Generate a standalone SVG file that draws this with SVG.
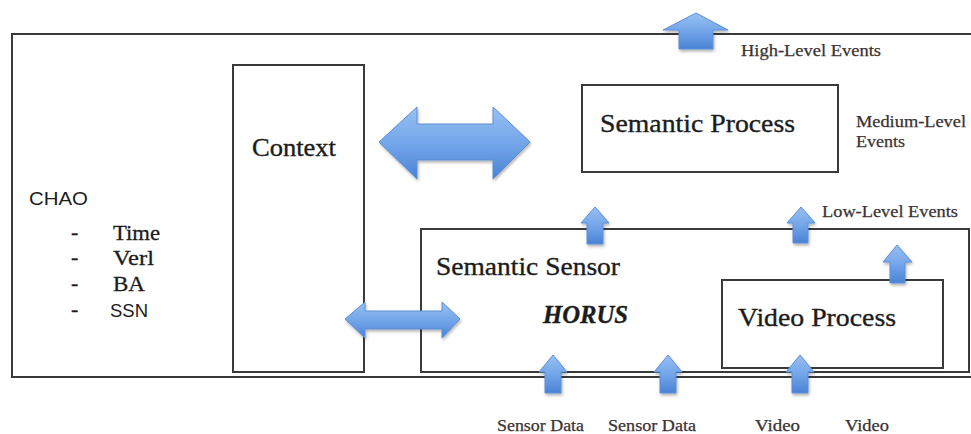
<svg xmlns="http://www.w3.org/2000/svg" width="971" height="434" viewBox="0 0 971 434">
<defs>
  <linearGradient id="blueV" x1="0" y1="0" x2="0" y2="1">
    <stop offset="0" stop-color="#98c0f2"/>
    <stop offset="0.5" stop-color="#74a6ea"/>
    <stop offset="1" stop-color="#4a82d4"/>
  </linearGradient>
  <filter id="shadow" x="-30%" y="-30%" width="160%" height="170%">
    <feDropShadow dx="1" dy="2" stdDeviation="1.5" flood-color="#000" flood-opacity="0.3"/>
  </filter>
</defs>
<style>
  .box { fill: none; stroke: #3a3a3a; stroke-width: 2; }
  .arrow { fill: url(#blueV); stroke: #5b8fd6; stroke-width: 1; stroke-linejoin: round; filter: url(#shadow); }
  .big { font-family: "Liberation Serif", "Times New Roman", "DejaVu Serif", serif; font-size: 26px; fill: #1c1c1c; stroke: #1c1c1c; stroke-width: 0.35; }
  .small { font-family: "Liberation Serif", "Times New Roman", "DejaVu Serif", serif; font-size: 16px; fill: #3b3232; stroke: #3b3232; stroke-width: 0.25; }
  .list { font-family: "Liberation Serif", "Times New Roman", "DejaVu Serif", serif; font-size: 22px; fill: #1c1c1c; stroke: #1c1c1c; stroke-width: 0.3; }
  .sans { font-family: "Liberation Sans", Arial, sans-serif; fill: #1c1c1c; }
</style>
<rect width="971" height="434" fill="#ffffff"/>

<g id="chao">
  <rect class="box" x="12" y="34" width="962" height="343"/>
  <text class="sans" x="29" y="205" font-size="19" textLength="59" lengthAdjust="spacingAndGlyphs">CHAO</text>
  <text class="list" x="71" y="239">-</text>
  <text class="list" x="71" y="264">-</text>
  <text class="list" x="71" y="290">-</text>
  <text class="list" x="71" y="316">-</text>
  <text class="list" x="113" y="240" textLength="47" lengthAdjust="spacingAndGlyphs">Time</text>
  <text class="list" x="113" y="265" textLength="41" lengthAdjust="spacingAndGlyphs">Verl</text>
  <text class="list" x="113" y="291" textLength="32" lengthAdjust="spacingAndGlyphs">BA</text>
  <text class="sans" x="110" y="317" font-size="18" textLength="38" lengthAdjust="spacingAndGlyphs">SSN</text>
</g>

<g id="context">
  <rect class="box" x="233" y="65" width="131" height="307"/>
  <text class="big" x="252" y="156" font-size="24" textLength="84" lengthAdjust="spacingAndGlyphs">Context</text>
</g>

<g id="semantic-process">
  <rect class="box" x="582" y="85" width="256" height="87"/>
  <text class="big" x="600" y="132" textLength="195" lengthAdjust="spacingAndGlyphs">Semantic Process</text>
</g>

<g id="semantic-sensor">
  <rect class="box" x="421" y="229" width="548" height="143"/>
  <text class="big" x="436" y="275" textLength="184" lengthAdjust="spacingAndGlyphs">Semantic Sensor</text>
  <text class="big" x="543" y="323" font-size="22" font-weight="bold" font-style="italic" textLength="85" lengthAdjust="spacingAndGlyphs">HORUS</text>
</g>

<g id="video-process">
  <rect class="box" x="722" y="280" width="221" height="88"/>
  <text class="big" x="738" y="326" textLength="158" lengthAdjust="spacingAndGlyphs">Video Process</text>
</g>

<g id="labels">
  <text class="small" x="741" y="56" textLength="140" lengthAdjust="spacingAndGlyphs">High-Level Events</text>
  <text class="small" x="856" y="127" textLength="110" lengthAdjust="spacingAndGlyphs">Medium-Level</text>
  <text class="small" x="856" y="147" textLength="49" lengthAdjust="spacingAndGlyphs">Events</text>
  <text class="small" x="822" y="217" textLength="136" lengthAdjust="spacingAndGlyphs">Low-Level Events</text>
  <text class="small" x="497" y="431" textLength="87" lengthAdjust="spacingAndGlyphs">Sensor Data</text>
  <text class="small" x="608" y="431" textLength="88" lengthAdjust="spacingAndGlyphs">Sensor Data</text>
  <text class="small" x="755" y="431" textLength="45" lengthAdjust="spacingAndGlyphs">Video</text>
  <text class="small" x="845" y="431" textLength="44" lengthAdjust="spacingAndGlyphs">Video</text>
</g>

<g id="connectors">
  <polygon class="arrow" points="379,142 417,107 417,124 493,124 493,107 530,142 493,179 493,160 417,160 417,179"/>
  <polygon class="arrow" points="345,319 365,302 365,311 442,311 442,302 460,319 442,338 442,329 365,329 365,338"/>
  <polygon class="arrow" points="696,13 728,30 713,30 713,49 679,49 679,30 663,30"/>
  <polygon class="arrow" points="595,207 609,223 603,223 603,244 587,244 587,223 581,223"/>
  <polygon class="arrow" points="801,207 815,223 808,223 808,243 793,243 793,223 787,223"/>
  <polygon class="arrow" points="897,245 912,262 905,262 905,283 890,283 890,262 883,262"/>
  <polygon class="arrow" points="553,355 567,372 561,372 561,393 545,393 545,372 539,372"/>
  <polygon class="arrow" points="668,355 682,372 676,372 676,393 660,393 660,372 654,372"/>
  <polygon class="arrow" points="800,355 814,372 808,372 808,393 792,393 792,372 786,372"/>
</g>
</svg>
